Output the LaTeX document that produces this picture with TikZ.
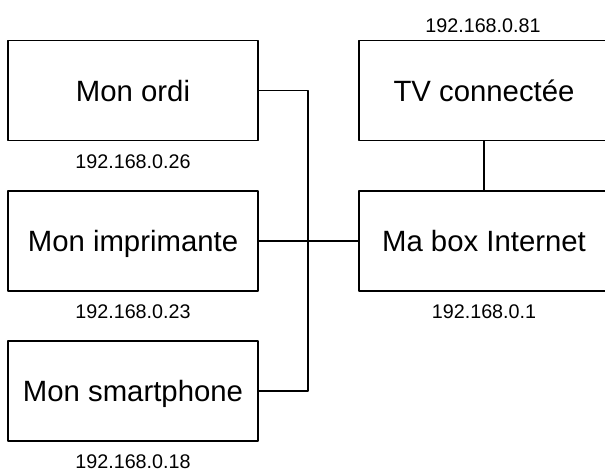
\documentclass[tikz,border=0pt]{standalone}
\usepackage{fontspec}
\setmainfont{Liberation Sans}

\begin{document}
\begin{tikzpicture}[x=0.75pt,y=-0.75pt,line cap=round,line join=round,
    appareil/.style={draw,line width=1.4pt,minimum width=187.5pt,minimum height=75pt,
        inner sep=0pt,font=\fontsize{22}{26}\selectfont,text height=15.8pt,text depth=0pt},
    adresse/.style={inner sep=0pt,font=\fontsize{14.8}{17}\selectfont,text height=10.6pt,text depth=0pt},
    lien/.style={line width=1.4pt}]
        \useasboundingbox (0,0) rectangle (605,470);

        % Appareils du réseau local
        \node[appareil] (ordi) at (133,90.5) {Mon ordi};
        \node[appareil] (imprimante) at (133,241) {Mon imprimante};
        \node[appareil] (smartphone) at (133,391) {Mon smartphone};
        \node[appareil] (tv) at (484,90.5) {TV connectée};
        \node[appareil] (box) at (484,241) {Ma box Internet};

        % Adresses IP
        \node[adresse] (ipordi) at (133,161.5) {192.168.0.26};
        \node[adresse] (ipimprimante) at (133,311) {192.168.0.23};
        \node[adresse] (ipsmartphone) at (133,461) {192.168.0.18};
        \node[adresse] (iptv) at (483,25) {192.168.0.81};
        \node[adresse] (ipbox) at (484,311) {192.168.0.1};

        % Câblage
        \coordinate (bus) at (308,241);
        \draw[lien] (ordi.east) -| (bus) |- (smartphone.east);
        \draw[lien] (imprimante.east) -- (box.west);
        \draw[lien] (tv.south) -- (box.north);
    \end{tikzpicture}
\end{document}
